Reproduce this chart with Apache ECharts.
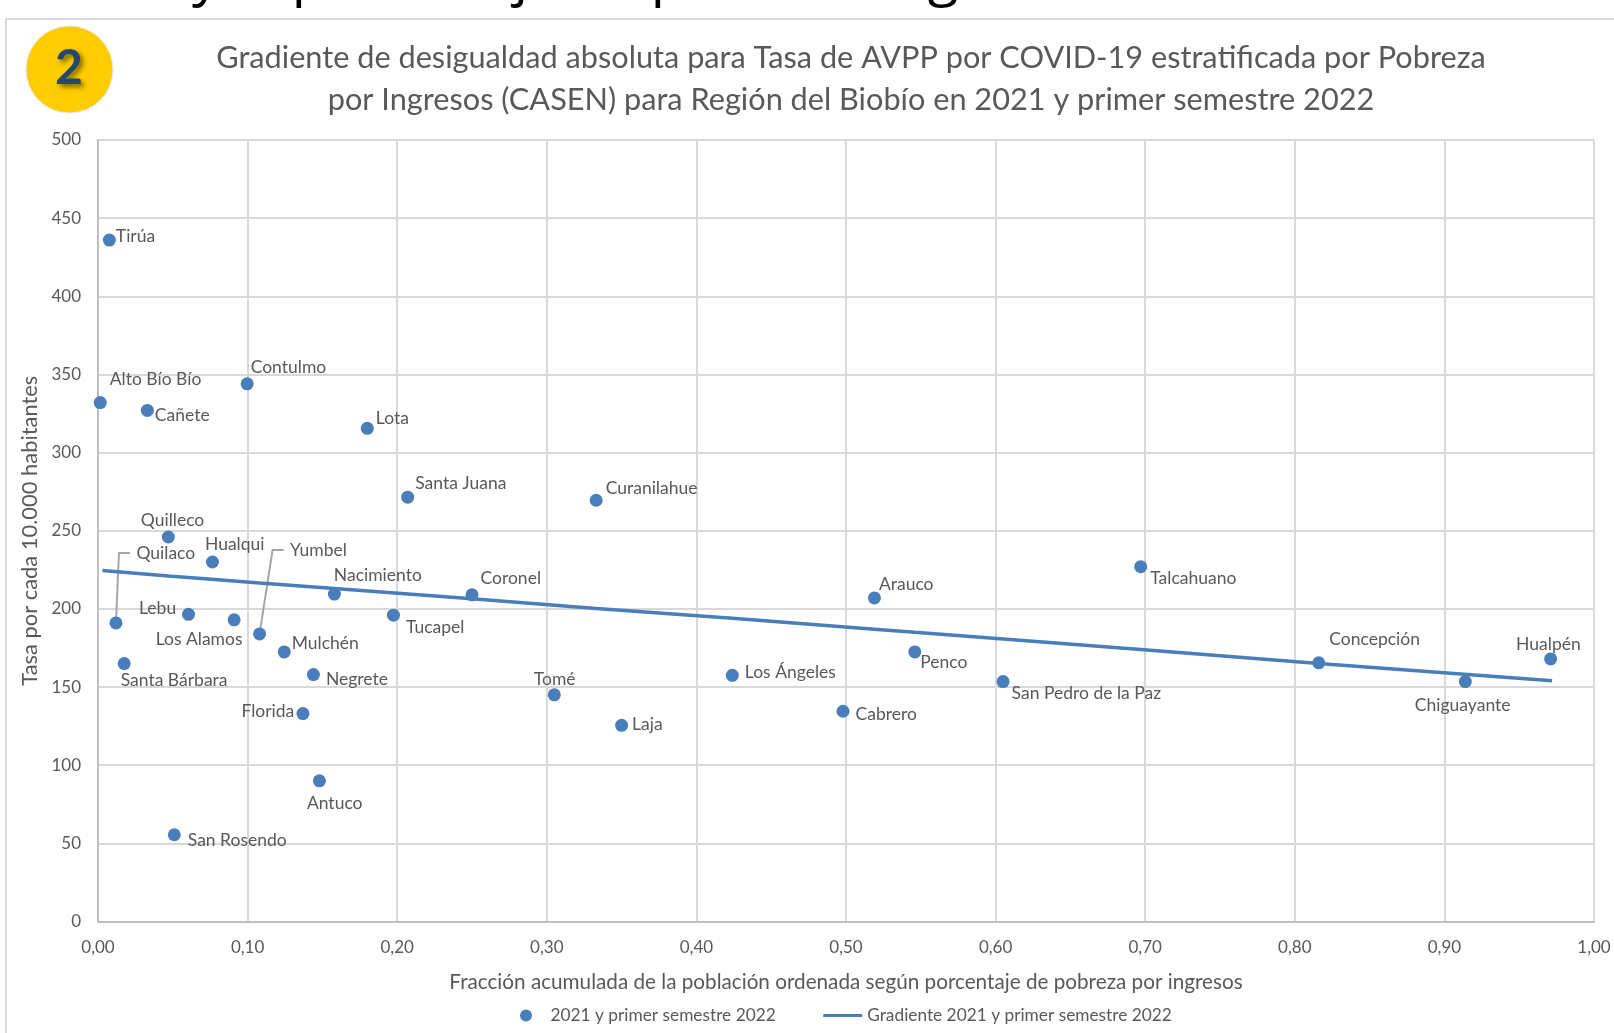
<!DOCTYPE html>
<html><head><meta charset="utf-8">
<style>html,body{margin:0;padding:0;background:#fff;overflow:hidden}#c{width:1614px;height:1033px}</style>
<script src="https://cdn.jsdelivr.net/npm/echarts@6/dist/echarts.min.js"></script>
</head><body><div id="c"></div>
<script>
const FONT = 'Lato, "Open Sans", sans-serif';
const TEXT = '#595959';
const BLUE = '#4a7ebb';

const titleLines = ['Gradiente de desigualdad absoluta para Tasa de AVPP por COVID-19 estratificada por Pobreza',
                    'por Ingresos (CASEN) para Región del Biobío en 2021 y primer semestre 2022'];
const xAxisName = 'Fracción acumulada de la población ordenada según porcentaje de pobreza por ingresos';
const yAxisName = 'Tasa por cada 10.000 habitantes';
const scatterName = '2021 y primer semestre 2022';
const lineName = 'Gradiente 2021 y primer semestre 2022';

const comunas = ['Tirúa','Alto Bío Bío','Cañete','Contulmo','Lota','Santa Juana','Curanilahue','Quilleco','Hualqui','Quilaco','Yumbel','Nacimiento','Coronel','Tucapel','Lebu','Los Alamos','Mulchén','Negrete','Santa Bárbara','Florida','Antuco','San Rosendo','Tomé','Laja','Los Ángeles','Cabrero','Arauco','Penco','San Pedro de la Paz','Talcahuano','Concepción','Chiguayante','Hualpén'];
const fraccion = [.0076,.0015,.033,.0997,.18,.207,.333,.047,.0765,.012,.108,.158,.25,.1975,.0605,.091,.1245,.144,.0175,.137,.148,.051,.305,.35,.424,.498,.519,.546,.605,.697,.816,.914,.971];
const tasa = [436,332,327,344,315.5,271.5,269.5,246,230,191,184,209.5,209,196,196.5,193,172.5,158,165,133,90,55.5,145,125.5,157.5,134.5,207,172.5,153.5,227,165.5,153.5,168];

const gradX = [.003,.047,.076,.108,.158,.25,.333,.424,.519,.546,.697,.816,.972];
const gradY = [224.5,221,219,216.5,213,206.5,200.3,194,187,185,174,165,154];

// label placement, px from point centre to the label's left-middle
const labelDX = [6,9,7,3,8,7,9,-28,-8,20,30,-1,8,12,-50,-79,7,12,-4,-62,-13,13,-21,10,12,12,4,5,8,9,10,-51,-35];
const labelDY = [-4,-23,5,-16,-10,-14,-12,-17,-18,-70,-84,-19,-16,12,-6,20,-9,5,17,-2,23,6,-16,-1,-3,3,-14,10,12,12,-23,24,-15];

// leader lines: name of the point, then px offsets of the bend and the end
const leaders = [
  {name:'Quilaco', bend:[3,-70], end:[14,-70]},
  {name:'Yumbel',  bend:[13,-84], end:[24,-84]}
];

// lower edges of the large heading that is cut off by the top of the page
const headingGlyphs = [{t:'y',x:206},{t:'p',x:309},{t:'j',x:521},{t:'p',x:668},{t:'g',x:943}];

const chart = echarts.init(document.getElementById('c'), null, {renderer:'canvas'});
const pts = comunas.map((n,i)=>({
  name:n, value:[fraccion[i],tasa[i]],
  label:{offset:[labelDX[i]-6,labelDY[i]]}
}));
chart.setOption({
  animation:false,
  backgroundColor:'#fff',
  textStyle:{fontFamily:FONT},
  title:{
    text:titleLines.join('\n'), left:846, top:32, textAlign:'center',
    textStyle:{fontFamily:FONT,fontSize:30.7,fontWeight:'normal',color:TEXT,lineHeight:42}
  },
  graphic:[
    {type:'rect',shape:{x:6,y:19,width:1700,height:1100},style:{fill:'none',stroke:'#d9d9d9',lineWidth:2},z:-1},
    {type:'circle',shape:{cx:69.5,cy:69.5,r:43.5},style:{fill:'#ffcc00',stroke:'#e8e8e8',lineWidth:1},z:1},
    {type:'text',x:69,y:69,z:2,style:{text:'2',fill:'#24486f',font:'bold 48px '+FONT,align:'center',verticalAlign:'middle',textShadowColor:'rgba(0,0,0,0.5)',textShadowBlur:5,textShadowOffsetX:3,textShadowOffsetY:3}}
  ].concat(headingGlyphs.map(g=>({type:'text',x:g.x,y:6,z:2,style:{text:g.t,fill:'#000',font:'56px "Open Sans", sans-serif',align:'center',verticalAlign:'bottom'}}))),
  grid:{left:98,right:20,top:140,bottom:111.5,containLabel:false},
  xAxis:{
    type:'value',min:0,max:1,interval:.1,
    name:xAxisName,nameLocation:'middle',nameGap:50,
    nameTextStyle:{fontFamily:FONT,fontSize:20.7,color:TEXT},
    axisLine:{show:true,onZero:false,lineStyle:{color:'#bfbfbf',width:2}},
    axisTick:{show:false},
    axisLabel:{color:TEXT,fontSize:17,fontFamily:FONT,margin:18,formatter:v=>v.toFixed(2).replace('.',',')},
    splitLine:{show:true,lineStyle:{color:'#d9d9d9',width:2}}
  },
  yAxis:{
    type:'value',min:0,max:500,interval:50,
    name:yAxisName,nameLocation:'middle',nameGap:48,
    nameTextStyle:{fontFamily:FONT,fontSize:21.9,color:TEXT},
    axisLine:{show:true,onZero:false,lineStyle:{color:'#bfbfbf',width:2}},
    axisTick:{show:false},
    axisLabel:{color:TEXT,fontSize:17,fontFamily:FONT,margin:17},
    splitLine:{show:true,lineStyle:{color:'#d9d9d9',width:2}}
  },
  legend:{
    left:515,top:1002,itemGap:46,itemHeight:12,itemWidth:39,
    textStyle:{fontFamily:FONT,fontSize:17.3,color:TEXT},
    data:[
      {name:scatterName,icon:'circle',itemWidth:12},
      {name:lineName,itemStyle:{opacity:0},lineStyle:{width:3,color:BLUE}}
    ]
  },
  series:[
    {
      name:lineName,type:'line',showSymbol:false,symbol:'none',z:3,
      data:gradX.map((x,i)=>[x,gradY[i]]),
      lineStyle:{color:BLUE,width:3.5},itemStyle:{color:BLUE}
    },
    {
      type:'custom',silent:true,z:2,
      data:leaders.map(l=>[fraccion[comunas.indexOf(l.name)],tasa[comunas.indexOf(l.name)]]),
      renderItem:(p,api)=>{
        const c=api.coord([api.value(0),api.value(1)]);
        const l=leaders[p.dataIndex];
        return {type:'polyline',shape:{points:[c,[c[0]+l.bend[0],c[1]+l.bend[1]],[c[0]+l.end[0],c[1]+l.end[1]]]},
          style:{fill:'none',stroke:'#a6a6a6',lineWidth:2}};
      }
    },
    {
      name:scatterName,type:'scatter',symbol:'circle',symbolSize:13,z:4,
      data:pts,
      itemStyle:{color:BLUE,opacity:1},
      label:{show:true,position:'right',distance:0,formatter:'{b}',color:TEXT,fontSize:17.5,fontFamily:FONT}
    }
  ]
});
</script></body></html>
